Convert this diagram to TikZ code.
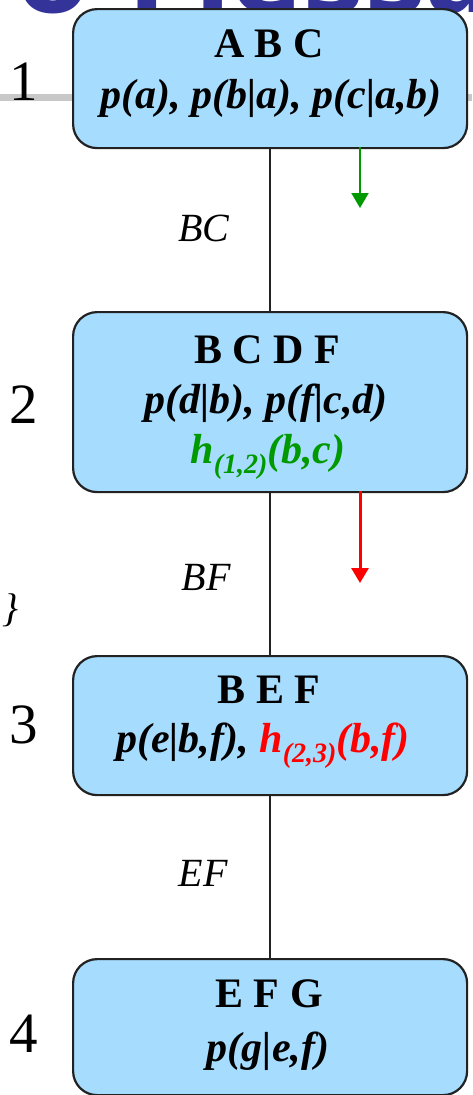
\documentclass[tikz,border=0pt]{standalone}
\usepackage{fontspec}
\setmainfont{Liberation Serif}
\newfontfamily\titlefont{DejaVu Sans}
\usetikzlibrary{arrows.meta}
\definecolor{boxblue}{RGB}{166,220,254}
\definecolor{titleblue}{RGB}{51,51,153}
\definecolor{msggreen}{RGB}{0,153,0}
\definecolor{msgred}{RGB}{255,0,0}
\definecolor{rulegray}{RGB}{200,200,200}
\definecolor{edgeblack}{RGB}{34,34,34}
\newcommand{\bigtxt}{\fontsize{42}{48}\selectfont}
\newcommand{\subtxt}[1]{\raisebox{-10pt}{\fontsize{28}{30}\selectfont #1}}
\begin{document}
\begin{tikzpicture}[x=1pt,y=-1pt,
  clique/.style={draw=edgeblack, line width=2.2pt, fill=boxblue, rounded corners=24pt,
    minimum width=394pt, inner sep=0pt, anchor=north west},
  varline/.style={inner sep=0pt, anchor=base, font=\bigtxt\bfseries},
  potline/.style={inner sep=0pt, anchor=base, font=\bigtxt\bfseries\itshape},
  seplabel/.style={inner sep=0pt, anchor=base, font=\fontsize{40}{48}\selectfont\itshape},
  cliquenum/.style={inner sep=0pt, anchor=base, font=\fontsize{57}{60}\selectfont},
  titlepart/.style={inner sep=0pt, anchor=base west, text=titleblue, font=\fontsize{104}{110}\selectfont\titlefont\bfseries},
  treeedge/.style={draw=edgeblack, line width=2pt},
  msgarrow/.style={line width=#1, -{Triangle[length=15pt,width=17pt]}}
]
\useasboundingbox (0,0) rectangle (472,1095);
% slide rule and cut title
\fill[rulegray] (0,94) rectangle (472,101);
\begin{scope}
  \clip (0,0) rectangle (472,14);
  \node[titlepart] (title1) at (17,12) {o};
  \node[titlepart] (title2) at (128,12) {Messa};
\end{scope}
% cliques
\node[clique, minimum height=139pt] (b1) at (72,8) {};
\node[clique, minimum height=180pt] (b2) at (72,311) {};
\node[clique, minimum height=139pt] (b3) at (72,655) {};
\node[clique, minimum height=136pt] (b4) at (72,958) {};
% tree edges
\draw[treeedge] (b1.south) -- (b2.north);
\draw[treeedge] (b2.south) -- (b3.north);
\draw[treeedge] (b3.south) -- (b4.north);
% separator labels
\node[seplabel] (s12) at (204,241) {BC};
\node[seplabel] (s23) at (206,590) {BF};
\node[seplabel] (s34) at (203,886) {EF};
% messages
\coordinate (g1) at (360,147);
\coordinate (g2) at (360,208);
\draw[msgarrow=2pt, msggreen] (g1) -- (g2);
\coordinate (r1) at (360,491);
\coordinate (r2) at (360,583);
\draw[msgarrow=3pt, msgred] (r1) -- (r2);
% clique numbers
\node[cliquenum] (n1) at (24,100) {1};
\node[cliquenum] (n2) at (24,423) {2};
\node[cliquenum] (n3) at (24,743) {3};
\node[cliquenum] (n4) at (24,1052) {4};
\node[inner sep=0pt, font=\fontsize{40}{48}\selectfont\itshape] (brace) at (10,610) {\}};
% clique contents
\node[varline] (v1) at (269,57) {A B C};
\node[potline] (p1) at (271,108) {p(a), p(b|a), p(c|a,b)};
\node[varline] (v2) at (267,363) {B C D F};
\node[potline] (p2) at (266,413) {p(d|b), p(f|c,d)};
\node[potline, text=msggreen] (h2) at (268,463) {h\subtxt{(1,2)}(b,c)};
\node[varline] (v3) at (269,703) {B E F};
\node[potline] (p3) at (263,752) {p(e|b,f), \textcolor{msgred}{h\subtxt{(2,3)}(b,f)}};
\node[varline] (v4) at (269,1007) {E F G};
\node[potline] (p4) at (268,1061) {p(g|e,f)};
\end{tikzpicture}
\end{document}
